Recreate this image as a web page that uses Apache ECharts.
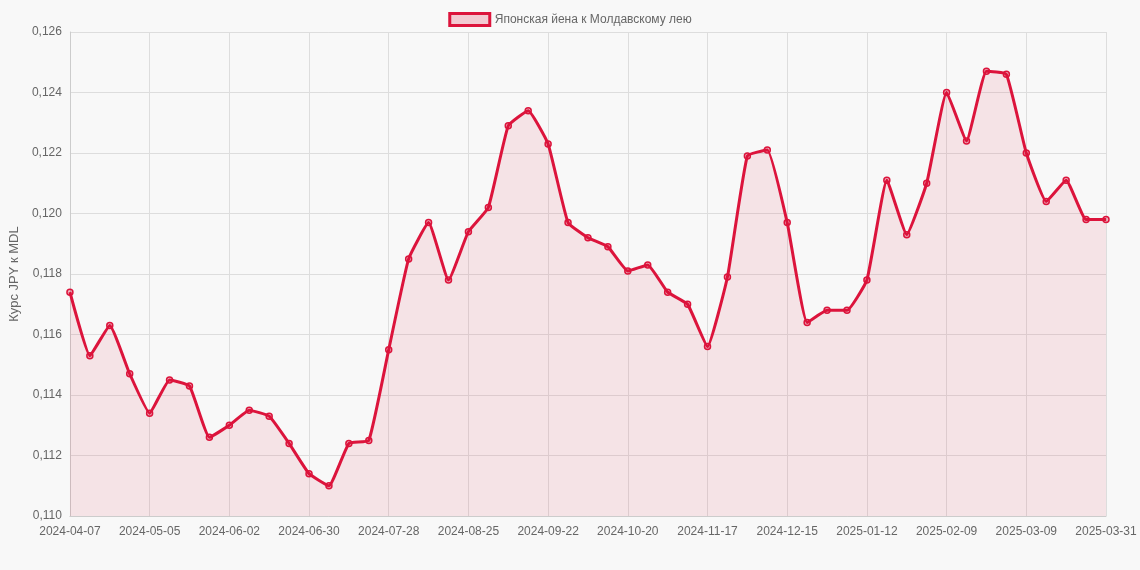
<!DOCTYPE html>
<html>
<head>
<meta charset="utf-8">
<script src="https://cdn.jsdelivr.net/npm/echarts@6/dist/echarts.min.js"></script>
<style>
  html, body { margin: 0; padding: 0; background: #f8f8f8; }
  #chart { width: 1140px; height: 570px; }
</style>
</head>
<body>
<div id="chart"></div>
<script>
// даты (недели)
var dates = [
  '2024-04-07','2024-04-14','2024-04-21','2024-04-28','2024-05-05','2024-05-12','2024-05-19','2024-05-26',
  '2024-06-02','2024-06-09','2024-06-16','2024-06-23','2024-06-30','2024-07-07','2024-07-14','2024-07-21',
  '2024-07-28','2024-08-04','2024-08-11','2024-08-18','2024-08-25','2024-09-01','2024-09-08','2024-09-15',
  '2024-09-22','2024-09-29','2024-10-06','2024-10-13','2024-10-20','2024-10-27','2024-11-03','2024-11-10',
  '2024-11-17','2024-11-24','2024-12-01','2024-12-08','2024-12-15','2024-12-22','2024-12-29','2025-01-05',
  '2025-01-12','2025-01-19','2025-01-26','2025-02-02','2025-02-09','2025-02-16','2025-02-23','2025-03-02',
  '2025-03-09','2025-03-16','2025-03-23','2025-03-30','2025-03-31'
];

// курс JPY к MDL
var rates = [
  0.1174, 0.1153, 0.1163, 0.1147, 0.1134, 0.1145, 0.1143, 0.1126,
  0.1130, 0.1135, 0.1133, 0.1124, 0.1114, 0.1110, 0.1124, 0.1125,
  0.1155, 0.1185, 0.1197, 0.1178, 0.1194, 0.1202, 0.1229, 0.1234,
  0.1223, 0.1197, 0.1192, 0.1189, 0.1181, 0.1183, 0.1174, 0.1170,
  0.1156, 0.1179, 0.1219, 0.1221, 0.1197, 0.1164, 0.1168, 0.1168,
  0.1178, 0.1211, 0.1193, 0.1210, 0.1240, 0.1224, 0.1247, 0.1246,
  0.1220, 0.1204, 0.1211, 0.1198, 0.1198
];

var seriesName = 'Японская йена к Молдавскому лею';
var yTitle = 'Курс JPY к MDL';

var chart = echarts.init(document.getElementById('chart'));
chart.setOption({
  backgroundColor: '#f8f8f8',
  animation: false,
  textStyle: { fontFamily: 'Arial, Liberation Sans, sans-serif' },
  legend: {
    top: 7,
    itemWidth: 40,
    itemHeight: 12,
    icon: 'rect',
    textStyle: { color: '#666', fontSize: 12 },
    data: [{ name: seriesName, itemStyle: { color: 'rgba(220,20,60,0.2)', borderColor: '#dc143c', borderWidth: 3 } }]
  },
  grid: { left: 63, right: 34, top: 32, bottom: 54 },
  xAxis: {
    type: 'category',
    data: dates,
    boundaryGap: false,
    axisLine: { lineStyle: { color: '#ccc' } },
    axisTick: { show: false },
    axisLabel: { color: '#666', fontSize: 12, interval: 3, margin: 10 },
    splitLine: { show: true, interval: 3, lineStyle: { color: '#ddd' } }
  },
  yAxis: {
    type: 'value',
    min: 0.110,
    max: 0.126,
    interval: 0.002,
    name: yTitle,
    nameLocation: 'middle',
    nameGap: 48,
    nameTextStyle: { color: '#666', fontSize: 13 },
    axisLine: { show: true, lineStyle: { color: '#ccc' } },
    axisLabel: { color: '#666', fontSize: 12, formatter: function (v) { return v.toFixed(3).replace('.', ','); } },
    splitLine: { lineStyle: { color: '#ddd' } }
  },
  series: [{
    name: seriesName,
    type: 'line',
    data: rates,
    smooth: 0.12,
    symbol: 'circle',
    symbolSize: 6,
    itemStyle: { color: 'rgba(220,20,60,0.3)', borderColor: '#dc143c', borderWidth: 1.5 },
    lineStyle: { color: '#dc143c', width: 3 },
    areaStyle: { color: 'rgba(220,20,60,0.13)' }
  }]
});
</script>
</body>
</html>
